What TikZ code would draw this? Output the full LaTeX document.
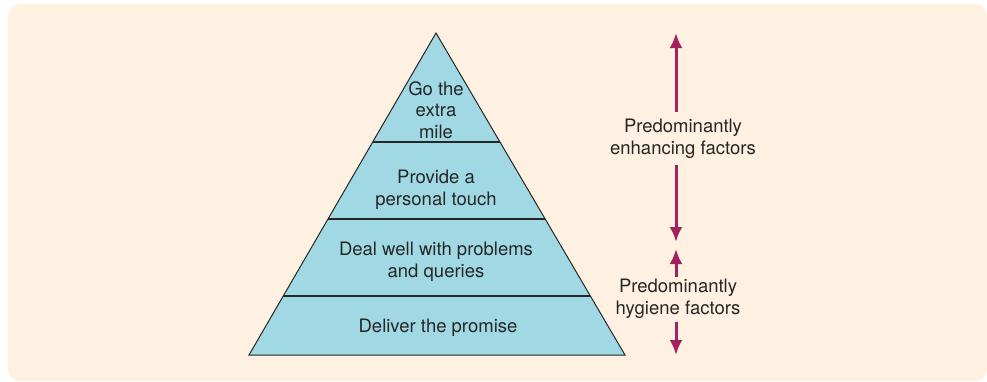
\documentclass[tikz,border=0pt]{standalone}
\usepackage{fontspec}
\setmainfont{TeX Gyre Heros}
\usetikzlibrary{arrows.meta,positioning}
\definecolor{Cream}{HTML}{FEF1E2}
\definecolor{Aqua}{HTML}{A0D9E4}
\definecolor{Berry}{HTML}{A3215E}
\definecolor{InkGray}{HTML}{262626}

\begin{document}
\begin{tikzpicture}[
      x=1pt, y=-1pt,
      tier/.style={
        align=center,
        text=InkGray,
        font=\fontsize{18.5}{21.5}\selectfont
      },
      note/.style={
        align=center,
        text=InkGray,
        font=\fontsize{18.5}{22.5}\selectfont
      },
      span/.style={-{Latex[length=15pt, width=13pt]}, draw=Berry, line width=3pt}
    ]
      \useasboundingbox (0,0) rectangle (987,381);
      \fill[Cream, rounded corners=12pt] (8,4) rectangle (987,381);
      % pyramid
      \coordinate (apex) at (436,33);
      \coordinate (baseL) at (249,355);
      \coordinate (baseR) at (625,355);
      \filldraw[fill=Aqua, draw=InkGray, line width=1pt] (apex) -- (baseR) -- (baseL) -- cycle;
      \foreach \y/\xl/\xr in {142/373/500, 219/328/545, 296/283/590}
        \draw[InkGray, line width=1.2pt] (\xl,\y) -- (\xr,\y);
      \node[tier] (mile) at (436,110) {Go the\\extra\\mile};
      \node[tier] (touch) at (436,190) {Provide a\\personal touch};
      \node[tier] (problems) at (436,262) {Deal well with problems\\and queries};
      \node[tier] (promise) at (438,328) {Deliver the promise};
      % side labels
      \node[note] (enhancing) at (683,139) {Predominantly\\enhancing factors};
      \node[note] (hygiene) at (678,299) {Predominantly\\hygiene factors};
      \coordinate (enhTop) at (676,33);
      \coordinate (enhBot) at (676,242);
      \coordinate (hygTop) at (676,249);
      \coordinate (hygBot) at (676,355);
      \draw[span] (676,112) -- (enhTop);
      \draw[span] (676,165) -- (enhBot);
      \draw[span] (676,277) -- (hygTop);
      \draw[span] (676,322) -- (hygBot);
    \end{tikzpicture}
\end{document}
